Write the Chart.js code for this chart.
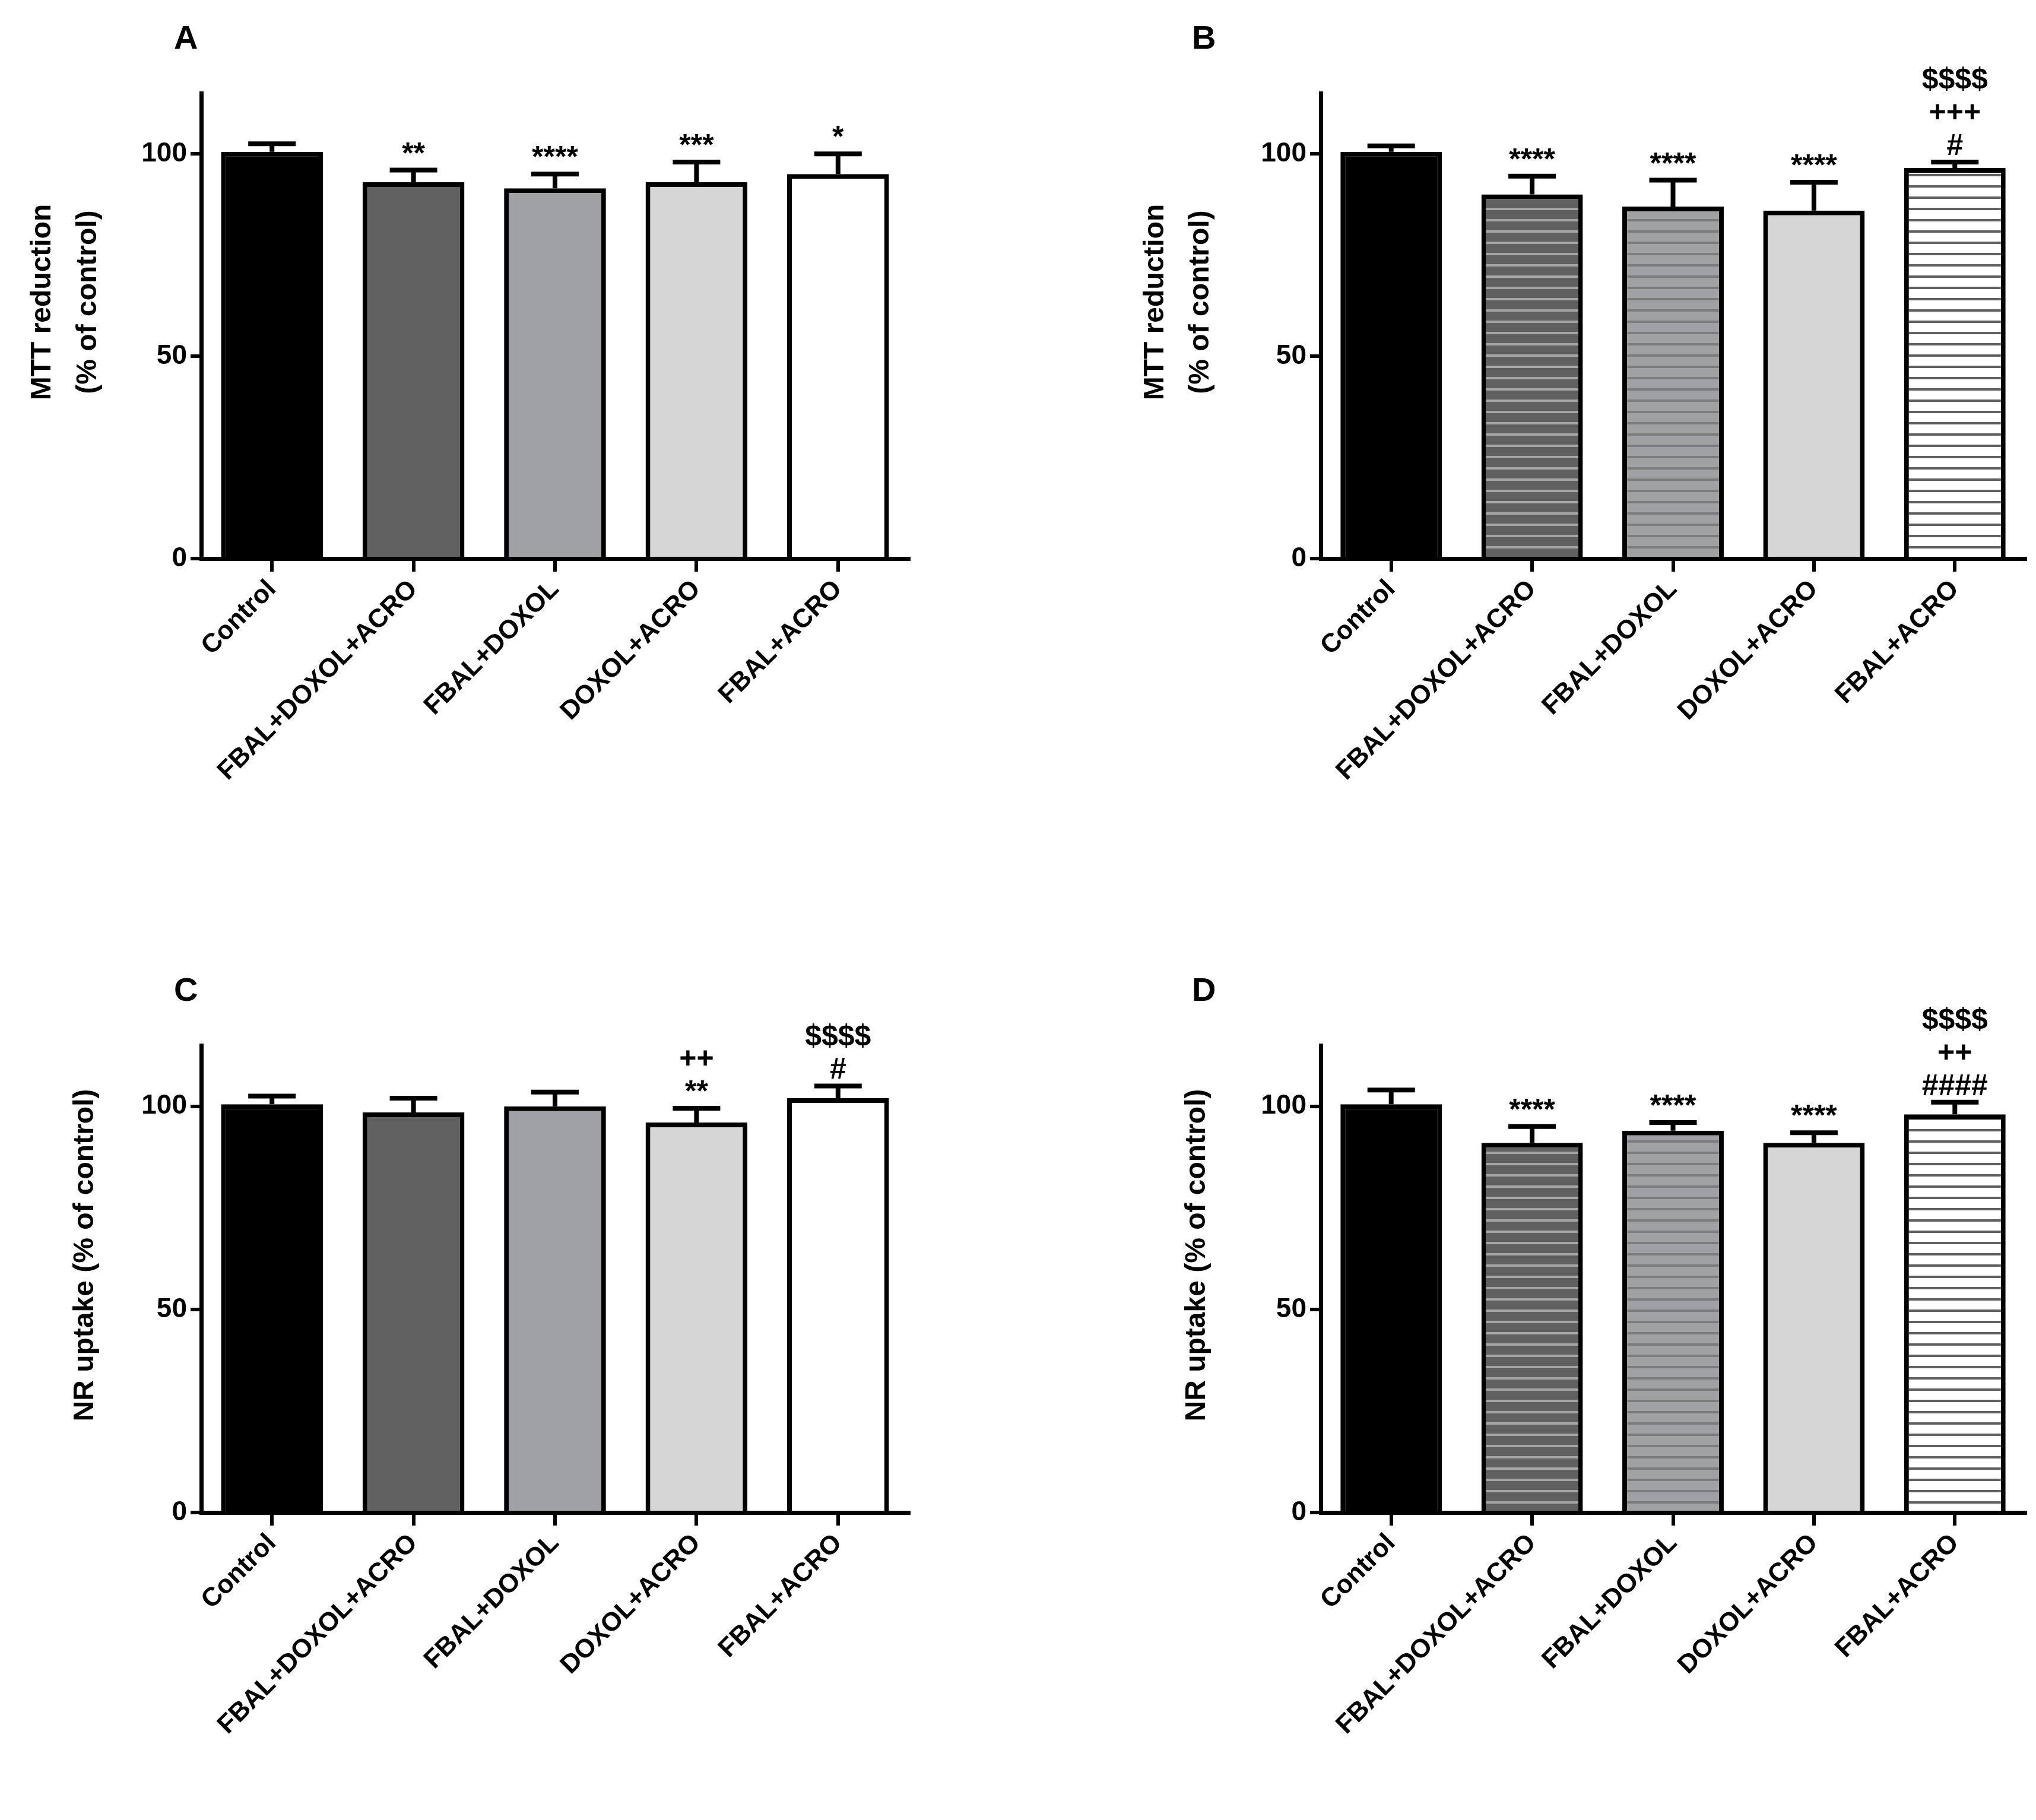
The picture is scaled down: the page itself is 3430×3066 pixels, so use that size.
<!DOCTYPE html>
<html><head><meta charset="utf-8">
<script src="https://cdn.jsdelivr.net/npm/chart.js@4/dist/chart.umd.min.js"></script>
<style>body{margin:0;background:#fff;width:3430px;height:3066px;position:relative;overflow:hidden}
.c{position:absolute;width:1715px;height:1533px}</style></head><body>
<div class="c" style="left:0;top:0"><canvas id="A"></canvas></div>
<div class="c" style="left:1715px;top:0"><canvas id="B"></canvas></div>
<div class="c" style="left:0;top:1533px"><canvas id="C"></canvas></div>
<div class="c" style="left:1715px;top:1533px"><canvas id="D"></canvas></div>
<script>
const categories = ['Control','FBAL+DOXOL+ACRO','FBAL+DOXOL','DOXOL+ACRO','FBAL+ACRO'];
const yTicks = [0, 50, 100];
const valuesA = [100.5, 93, 91.5, 93, 95];
const errorsA = [2, 3, 3.5, 5, 5];
const signsA = ['', '**', '****', '***', '*'];
const valuesB = [100.5, 90, 87, 86, 96.5];
const errorsB = [1.5, 4.5, 6.5, 7, 1.5];
const signsB = ['', '****', '****', '****', '$$$$\n+++\n#'];
const valuesC = [100.5, 98.5, 100, 96, 102];
const errorsC = [2, 3.5, 3.5, 3.5, 3];
const signsC = ['', '', '', '++\n**', '$$$$\n#'];
const valuesD = [100.5, 91, 94, 91, 98];
const errorsD = [3.5, 4, 2, 2.5, 3];
const signsD = ['', '****', '****', '****', '$$$$\n++\n####'];

function stripe(bg, line){
  const c=document.createElement('canvas'); c.width=20; c.height=19;
  const x=c.getContext('2d'); x.fillStyle=bg; x.fillRect(0,0,20,19);
  x.fillStyle=line; x.fillRect(0,8,20,4);
  return x.createPattern(c,'repeat');
}
const solidFills=['#000000','#606060','#a0a1a4','#d6d6d6','#ffffff'];
const stripeFills=['#000000',stripe('#606060','#a6a6a6'),stripe('#a0a1a4','#7c7c7c'),'#d6d6d6',stripe('#ffffff','#606060')];
const NARROW="'Liberation Sans Narrow','Liberation Sans',Arial";

function make(id, letter, vals, errs, signs, fills, titleLines, titleXs, pad, xH){
  const plug={id:'p'+id,
    afterDatasetsDraw(ch){
      const ctx=ch.ctx, ys=ch.scales.y, meta=ch.getDatasetMeta(0);
      ctx.save(); ctx.strokeStyle='#000'; ctx.lineWidth=8; ctx.fillStyle='#000';
      meta.data.forEach((b,i)=>{
        const yv=ys.getPixelForValue(vals[i]), ye=ys.getPixelForValue(vals[i]+errs[i]);
        ctx.beginPath(); ctx.moveTo(b.x,yv); ctx.lineTo(b.x,ye);
        ctx.moveTo(b.x-40,ye); ctx.lineTo(b.x+40,ye); ctx.stroke();
        if(signs[i]){
          const lines=signs[i].split('\n');
          ctx.font='bold 50px '+NARROW; ctx.textAlign='center'; ctx.textBaseline='alphabetic';
          let y=ye-12;
          for(let k=lines.length-1;k>=0;k--){ctx.fillText(lines[k],b.x,y); y-=56;}
        }
      });
      ctx.font='bold 56px '+NARROW; ctx.textAlign='left'; ctx.textBaseline='middle';
      ctx.fillText(letter, 293, pad.top-90);
      ctx.font='bold 48px "Liberation Sans", Arial'; ctx.textAlign='center';
      const cy=(ch.chartArea.top+ch.chartArea.bottom)/2-40;
      titleLines.forEach((t,k)=>{ctx.save(); ctx.translate(titleXs[k],cy); ctx.rotate(-Math.PI/2); ctx.fillText(t,0,0); ctx.restore();});
      ctx.restore();
    }};
  new Chart(document.getElementById(id),{type:'bar',
    data:{labels:categories,datasets:[{data:vals,backgroundColor:fills,borderColor:'#000',borderWidth:8,barPercentage:0.72,categoryPercentage:1}]},
    options:{responsive:true,maintainAspectRatio:false,animation:false,devicePixelRatio:1,
      layout:{padding:{top:pad.top,right:pad.right,left:0,bottom:0}},
      plugins:{legend:{display:false},tooltip:{enabled:false}},
      scales:{
        x:{offset:true,grid:{display:true,drawOnChartArea:false,offset:false,color:'#000',lineWidth:6,tickLength:22},
           border:{color:'#000',width:7},
           ticks:{color:'#000',font:{size:44,weight:'bold',family:"'Liberation Sans', Arial"},minRotation:45,maxRotation:45,padding:4},
           afterFit(s){s.height=xH;}},
        y:{min:0,max:115,afterBuildTicks(s){s.ticks=yTicks.map(v=>({value:v}));},
           grid:{drawOnChartArea:false,color:'#000',lineWidth:6,tickLength:18},
           border:{color:'#000',width:7},
           ticks:{color:'#000',font:{size:46,weight:'bold',family:NARROW},padding:6},
           afterFit(s){s.width=pad.left;}}
      }},plugins:[plug]});
}
make('A','A',valuesA,errorsA,signsA,solidFills,['MTT reduction','(% of control)'],[72,149],{top:157,right:184,left:339},592);
make('B','B',valuesB,errorsB,signsB,stripeFills,['MTT reduction','(% of control)'],[232,308],{top:157,right:18,left:510},592);
make('C','C',valuesC,errorsC,signsC,solidFills,['NR uptake (% of control)'],[144],{top:228,right:184,left:339},518);
make('D','D',valuesD,errorsD,signsD,stripeFills,['NR uptake (% of control)'],[302],{top:228,right:18,left:510},518);
</script></body></html>
